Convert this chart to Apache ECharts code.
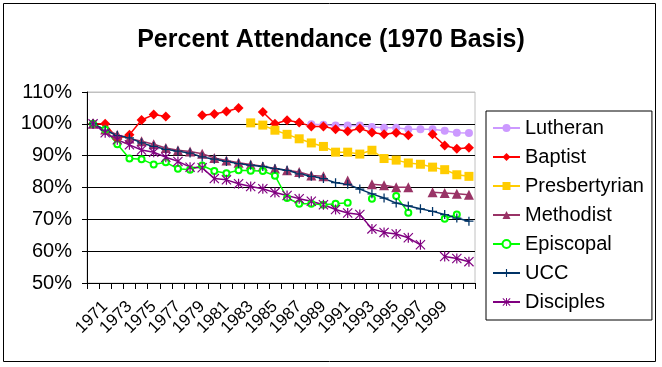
<!DOCTYPE html>
<html><head><meta charset="utf-8">
<script src="https://cdn.jsdelivr.net/npm/echarts@6/dist/echarts.min.js"></script>
<style>html,body{margin:0;padding:0;background:#fff}#c{width:662px;height:367px}</style>
</head><body><div id="c"></div>
<script>
const years = ['1970','1971','1972','1973','1974','1975','1976','1977','1978','1979','1980','1981','1982','1983','1984','1985','1986','1987','1988','1989','1990','1991','1992','1993','1994','1995','1996','1997','1998','1999','2000','2001'];
const yTicks = [50, 60, 70, 80, 90, 100, 110];
const lutheran = [null,null,null,null,null,null,null,null,null,null,null,null,null,null,null,null,null,null,99.9,99.7,99.5,99.5,99.5,99.0,98.8,98.8,98.3,98.3,98.3,97.8,97.2,97.1];
const baptist = [100,100,95.3,96.6,101.2,102.9,102.3,null,null,102.7,103.1,103.9,105.0,null,103.7,100.0,101.1,100.4,99.2,99.2,98.3,97.7,98.5,97.3,96.7,97.2,96.4,null,96.7,93.2,92.2,92.5];
const presbyterian = [null,null,null,null,null,null,null,null,null,null,null,null,null,100.3,99.6,98.0,96.7,95.3,94.0,92.9,91.1,91.1,90.5,91.7,89.1,88.6,87.7,87.3,86.4,85.6,84.0,83.5];
const methodist = [100,98.2,96.6,95.4,94.5,93.6,92.4,91.7,91.3,90.6,89.3,88.5,87.8,87.2,86.7,86.0,85.4,84.9,83.8,83.5,null,82.2,null,81.0,80.7,80.1,80.1,null,78.5,78.3,78.0,77.7];
const episcopal = [100,98.2,93.6,89.1,88.9,87.2,87.9,85.9,85.6,86.9,85.2,84.5,85.4,85.3,85.2,83.7,76.7,74.9,74.9,74.6,74.9,75.2,null,76.5,null,77.3,72.1,null,null,70.2,71.5,null];
const ucc = [100,98.0,96.3,95.6,94.0,92.9,92.0,91.4,90.8,89.6,88.9,88.2,87.5,87.0,86.6,85.9,85.4,84.3,83.5,82.8,81.5,81.0,79.5,78.0,76.7,75.1,74.2,73.3,72.5,71.5,70.4,69.4];
const disciples = [100,97.2,95.0,93.4,91.8,91.1,89.5,88.2,86.4,86.2,82.8,82.4,81.2,80.3,79.6,78.4,77.5,76.5,75.7,74.6,73.1,72.0,71.5,67.0,65.9,65.4,64.2,62.0,null,58.3,57.7,56.7];

const FONT = 'Liberation Sans, Arial, sans-serif';
const plusPath = 'path://M0,4.3H10V5.7H0Z M4.3,0H5.7V10H4.3Z';
const starPath = 'path://M4.4,0H5.6V10H4.4Z M0,0.8L0.8,0L10,9.2L9.2,10Z M9.2,0L10,0.8L0.8,10L0,9.2Z';

function mk(name, data, color, symbol, size, extra) {
  return Object.assign({
    name, type: 'line', data, symbol, symbolSize: size,
    showSymbol: true, showAllSymbol: true,
    connectNulls: false,
    lineStyle: { color, width: 1.5 },
    itemStyle: { color, borderColor: color, borderWidth: 0 },
    emphasis: { disabled: true },
    animation: false
  }, extra || {});
}

const chart = echarts.init(document.getElementById('c'), null, { renderer: 'canvas' });
chart.setOption({
  animation: false,
  backgroundColor: '#fff',
  title: {
    text: 'Percent Attendance (1970 Basis)',
    left: 'center', top: 23,
    textStyle: { fontFamily: FONT, fontWeight: 'bold', fontSize: 25, color: '#000' }
  },
  graphic: [{
    type: 'rect', shape: { x: 3.5, y: 3.5, width: 652, height: 358 },
    style: { fill: null, stroke: '#000', lineWidth: 1 }, z: -1
  }],
  legend: {
    orient: 'vertical', left: 486, top: 111,
    padding: [6, 8, 7, 6],
    itemWidth: 27, itemHeight: 10, itemGap: 7,
    borderColor: '#000', borderWidth: 1, backgroundColor: '#fff',
    textStyle: { fontFamily: FONT, fontSize: 20, color: '#000', lineHeight: 22 },
    data: ['Lutheran','Baptist','Presbertyrian','Methodist','Episcopal','UCC','Disciples']
  },
  grid: {
    left: 87, top: 92, right: 187, bottom: 84,
    show: true, borderColor: '#c0c0c0', borderWidth: 1, backgroundColor: '#fff'
  },
  xAxis: {
    type: 'category', data: years, boundaryGap: true,
    axisLine: { lineStyle: { color: '#000', width: 1 } },
    axisTick: { show: true, interval: 0, length: 6, lineStyle: { color: '#000' } },
    axisLabel: {
      rotate: 45, margin: 21,
      interval: function (i) { return i % 2 === 1 && i <= 29; },
      fontFamily: FONT, fontSize: 17, color: '#000'
    },
    splitLine: { show: false }
  },
  yAxis: {
    type: 'value', min: yTicks[0], max: yTicks[yTicks.length - 1], interval: 10,
    axisLine: { show: true, lineStyle: { color: '#000', width: 1 } },
    axisTick: { show: true, length: 5, lineStyle: { color: '#000' } },
    axisLabel: { formatter: '{value}%', margin: 15, fontFamily: FONT, fontSize: 20, color: '#000' },
    splitLine: { show: true, lineStyle: { color: ['#000','#000','#000','#000','#000','#000','#c0c0c0'], width: 1 } }
  },
  series: [
    mk('Lutheran', lutheran, '#CC99FF', 'circle', 8),
    mk('Baptist', baptist, '#FF0000', 'diamond', 10),
    mk('Presbertyrian', presbyterian, '#FFCC00', 'rect', 9),
    mk('Methodist', methodist, '#993366', 'triangle', 10),
    mk('Episcopal', episcopal, '#00FF00', 'emptyCircle', 6, { itemStyle: { color: '#00FF00', borderColor: '#00FF00', borderWidth: 1 } }),
    mk('UCC', ucc, '#003366', plusPath, 9),
    mk('Disciples', disciples, '#800080', starPath, 10)
  ]
});
</script>
</body></html>
